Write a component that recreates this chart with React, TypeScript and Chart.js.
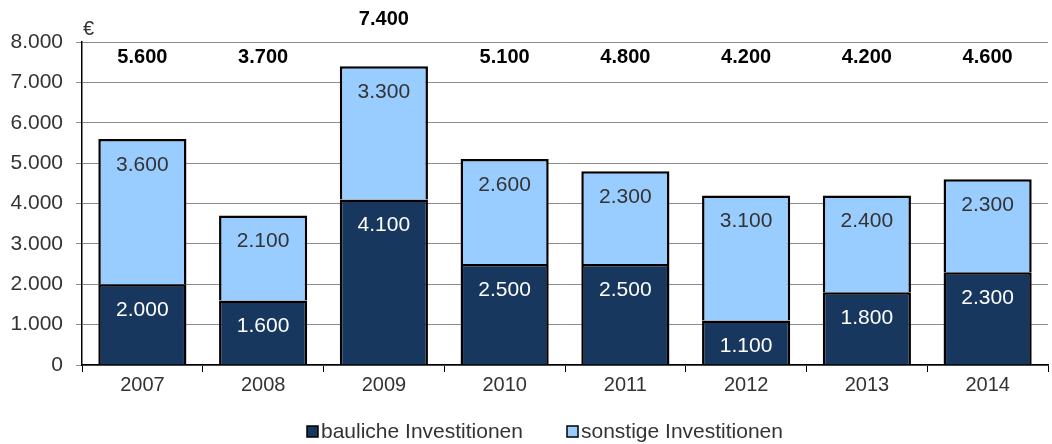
import React, { useEffect, useRef } from "react";
import { Chart, registerables } from "chart.js";

Chart.register(...registerables);

const years = ["2007", "2008", "2009", "2010", "2011", "2012", "2013", "2014"];
const baulich = [2000, 1600, 4100, 2500, 2500, 1100, 1800, 2300];
const sonstige = [3600, 2100, 3300, 2600, 2300, 3100, 2400, 2300];
const totals = [5600, 3700, 7400, 5100, 4800, 4200, 4200, 4600];
const seriesNames = ["bauliche Investitionen", "sonstige Investitionen"];
const yTicks = [0, 1000, 2000, 3000, 4000, 5000, 6000, 7000, 8000];

const DARK = "#17375E";
const LIGHT = "#99CCFF";
const TEXT = "#333333";
const FONT = "'Liberation Sans', Arial, sans-serif";

const fmt = (v: number) => v.toLocaleString("de-DE");

const labelsPlugin = {
  id: "customLabels",
  afterDatasetsDraw(chart: any) {
    const ctx = chart.ctx;
    const area = chart.chartArea;
    const yScale = chart.scales.y;
    ctx.save();
    ctx.textAlign = "center";
    ctx.textBaseline = "middle";
    ctx.font = `21px ${FONT}`;
    chart.data.datasets.forEach((ds: any, di: number) => {
      const meta = chart.getDatasetMeta(di);
      meta.data.forEach((bar: any, i: number) => {
        ctx.fillStyle = di === 0 ? "#ffffff" : TEXT;
        ctx.fillText(fmt(ds.data[i]), bar.x, bar.y + 26);
      });
    });
    ctx.font = `bold 20px ${FONT}`;
    ctx.fillStyle = "#000000";
    const meta0 = chart.getDatasetMeta(0);
    totals.forEach((t, i) => {
      const x = meta0.data[i].x;
      const y = t > 7000 ? area.top - 23 : yScale.getPixelForValue(7620);
      ctx.fillText(fmt(t), x, y);
    });
    // euro sign
    ctx.font = `20px ${FONT}`;
    ctx.fillStyle = TEXT;
    ctx.textAlign = "left";
    ctx.fillText("€", area.left + 1, area.top - 13);
    // legend
    const ly = 432;
    const items = [
      { x: 307, color: DARK, text: seriesNames[0] },
      { x: 567, color: LIGHT, text: seriesNames[1] },
    ];
    items.forEach((it) => {
      ctx.fillStyle = it.color;
      ctx.fillRect(it.x, ly - 6, 11, 11);
      ctx.strokeStyle = "#000";
      ctx.lineWidth = 1.5;
      ctx.strokeRect(it.x, ly - 6, 11, 11);
      ctx.fillStyle = TEXT;
      ctx.font = `21px ${FONT}`;
      ctx.textAlign = "left";
      ctx.fillText(it.text, it.x + 14, ly);
    });
    ctx.restore();
  },
};

export default function App() {
  const ref = useRef<HTMLCanvasElement>(null);
  useEffect(() => {
    document.body.style.margin = "0";
    const chart = new Chart(ref.current as HTMLCanvasElement, {
      type: "bar",
      data: {
        labels: years,
        datasets: [
          {
            label: seriesNames[0],
            data: baulich,
            backgroundColor: DARK,
            borderColor: "#000",
            borderWidth: 2.5,
            barPercentage: 0.73,
            categoryPercentage: 1,
          },
          {
            label: seriesNames[1],
            data: sonstige,
            backgroundColor: LIGHT,
            borderColor: "#000",
            borderWidth: 2.5,
            barPercentage: 0.73,
            categoryPercentage: 1,
          },
        ],
      },
      options: {
        animation: false,
        responsive: false,
        layout: { padding: { top: 42, right: 4, left: 0, bottom: 0 } },
        plugins: { legend: { display: false }, tooltip: { enabled: false } },
        scales: {
          x: {
            stacked: true,
            grid: {
              offset: true,
              drawOnChartArea: false,
              drawTicks: true,
              tickLength: 7,
              color: "#000",
            },
            border: { color: "#000", width: 1.5 },
            ticks: { color: TEXT, font: { size: 20, family: FONT }, padding: 1 },
            afterFit: (s: any) => {
              s.height = 79;
            },
          },
          y: {
            stacked: true,
            min: 0,
            max: 8000,
            afterBuildTicks: (s: any) => {
              s.ticks = yTicks.map((v) => ({ value: v }));
            },
            grid: { color: "#8c8c8c", tickLength: 6, lineWidth: 1 },
            border: { color: "#000", width: 1.5 },
            ticks: {
              color: TEXT,
              font: { size: 21, family: FONT },
              padding: 13,
              callback: (v: any) => fmt(Number(v)),
            },
            afterFit: (s: any) => {
              s.width = 82;
            },
          },
        },
      },
      plugins: [labelsPlugin],
    });
    return () => chart.destroy();
  }, []);
  return <canvas ref={ref} width={1052} height={444} style={{ display: "block" }} />;
}
